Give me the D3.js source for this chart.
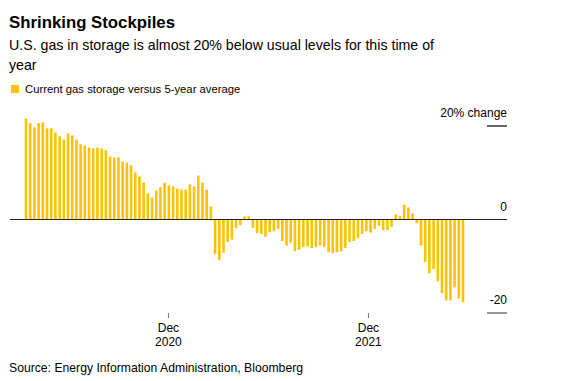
<!DOCTYPE html>
<html>
<head>
<meta charset="utf-8">
<script src="https://cdn.jsdelivr.net/npm/d3@7"></script>
<style>
	body { margin: 0; background: #fff; }
	text { font-family: "Liberation Sans", Arial, sans-serif; fill: #000; }
</style>
</head>
<body>
<svg width="577" height="381"></svg>
<script>
// weekly % difference of gas storage vs 5-year average
var values = [
	21.6, 20.6, 19.7, 20.6, 20.8, 19.5, 19.5, 18.6, 17.8, 17.1,
	18.4, 18.0, 17.1, 16.1, 15.8, 15.4, 15.2, 15.4, 15.2, 14.8,
	13.5, 13.3, 13.3, 12.4, 12.2, 11.6, 10.1, 9.2, 7.9, 5.6,
	4.7, 6.2, 6.9, 7.9, 7.3, 7.1, 6.6, 6.4, 6.4, 7.5,
	7.1, 9.4, 7.9, 6.4, 2.8, -7.4, -8.7, -7.1, -4.8, -4.3,
	-1.8, -1.2, 0.7, 0.7, -1.8, -2.9, -3.1, -3.7, -2.7, -2.5,
	-2.0, -4.6, -5.6, -5.0, -6.8, -6.5, -5.9, -5.8, -6.1, -5.9,
	-5.6, -5.9, -7.0, -7.2, -7.0, -6.8, -6.1, -4.8, -4.6, -4.0,
	-3.1, -2.5, -2.8, -2.0, -1.4, -2.3, -2.3, -1.6, 1.1, 0.7,
	3.2, 2.6, 1.3, -0.8, -5.6, -9.1, -11.5, -10.6, -13.2, -15.8,
	-17.3, -17.3, -14.5, -16.9, -17.7
];
// x-axis ticks (position in weeks from first bar)
var xTickPos = [33.9, 81.5];
var xTickLabels = [["Dec", "2020"], ["Dec", "2021"]];
var yTicks = [20, 0, -20];
var yTickLabels = ["20% change", "0", "-20"];

var svg = d3.select("svg");
var color = "#fdc300";

var x = d3.scaleLinear().domain([0, values.length - 1]).range([26, 463]);
var y = d3.scaleLinear().domain([-20, 20]).range([313, 126]);
var left = 10, right = 507;

// titles
svg.append("text").attr("x", 9).attr("y", 28)
	.style("font-size", "16.8px").style("font-weight", "bold")
	.text("Shrinking Stockpiles");
svg.append("text").attr("x", 9).attr("y", 50)
	.style("font-size", "14.2px")
	.text("U.S. gas in storage is almost 20% below usual levels for this time of");
svg.append("text").attr("x", 9).attr("y", 69.5)
	.style("font-size", "14.2px")
	.text("year");

// legend
svg.append("rect").attr("x", 11).attr("y", 85).attr("width", 8).attr("height", 8)
	.attr("fill", color);
svg.append("text").attr("x", 25).attr("y", 93.3)
	.style("font-size", "11.3px")
	.text("Current gas storage versus 5-year average");

// bars
svg.append("g").selectAll("rect")
	.data(values)
	.enter().append("rect")
		.attr("x", function(d, i) { return x(i) - 1.3; })
		.attr("y", function(d) { return Math.min(y(d), y(0)); })
		.attr("width", 2.6)
		.attr("height", function(d) { return Math.abs(y(d) - y(0)); })
		.attr("fill", color);

// zero line
svg.append("line")
	.attr("x1", left).attr("x2", right)
	.attr("y1", y(0)).attr("y2", y(0))
	.attr("stroke", "#222").attr("stroke-width", 1.2);

// y ticks
var yg = svg.append("g");
yTicks.forEach(function(t, i) {
	if (t !== 0) {
		yg.append("line")
			.attr("x1", right - 20).attr("x2", right)
			.attr("y1", y(t)).attr("y2", y(t))
			.attr("stroke", t > 0 ? "#000" : "#999")
			.attr("stroke-width", t > 0 ? 1.2 : 2);
	}
	yg.append("text")
		.attr("x", right).attr("y", y(t) - 9)
		.attr("text-anchor", "end")
		.style("font-size", "12px")
		.text(yTickLabels[i]);
});

// x ticks
var xg = svg.append("g");
xTickPos.forEach(function(p, i) {
	xg.append("line")
		.attr("x1", x(p)).attr("x2", x(p))
		.attr("y1", 313).attr("y2", 318)
		.attr("stroke", "#777").attr("stroke-width", 1);
	xg.append("text")
		.attr("x", x(p)).attr("y", 332)
		.attr("text-anchor", "middle")
		.style("font-size", "12px")
		.text(xTickLabels[i][0]);
	xg.append("text")
		.attr("x", x(p)).attr("y", 346)
		.attr("text-anchor", "middle")
		.style("font-size", "12px")
		.text(xTickLabels[i][1]);
});

// source
svg.append("text").attr("x", 9).attr("y", 372)
	.style("font-size", "12.2px")
	.text("Source: Energy Information Administration, Bloomberg");
</script>
</body>
</html>
